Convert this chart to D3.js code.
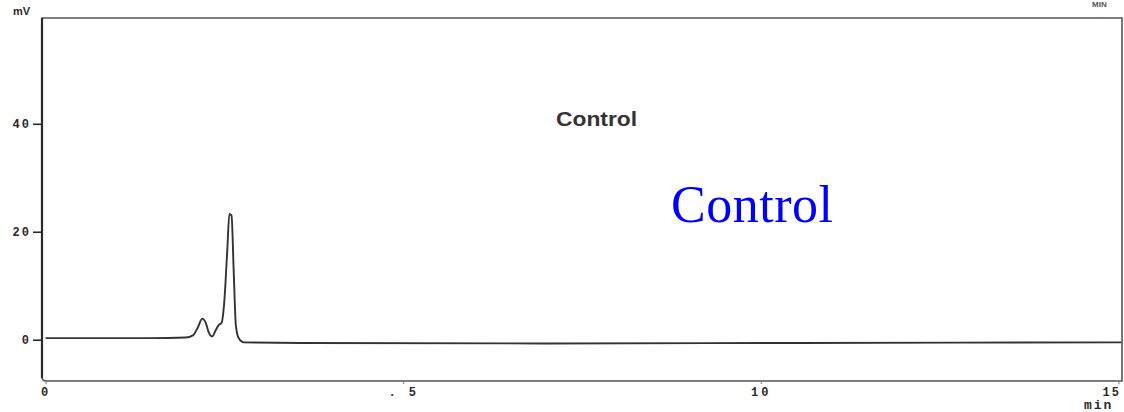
<!DOCTYPE html>
<html>
<head>
<meta charset="utf-8">
<script src="https://cdn.jsdelivr.net/npm/d3@7/dist/d3.min.js"></script>
<style>
  html, body { margin: 0; padding: 0; background: #fff; }
  svg { display: block; }
</style>
</head>
<body>
<svg id="chart" width="1124" height="412"></svg>
<script>
// ---- data ----
const timeMin = [0.0, 1.47, 1.96, 2.06, 2.13, 2.19, 2.24, 2.28, 2.33, 2.38, 2.42, 2.46, 2.50, 2.54, 2.57, 2.60, 2.63, 2.66, 2.70, 2.77, 3.57, 6.93, 10.56, 15.04];
const signalMV = [0.3, 0.3, 0.4, 0.8, 2.3, 3.9, 3.1, 1.4, 0.6, 1.8, 2.7, 3.1, 7.3, 16.5, 23.3, 23.0, 12.8, 2.7, 0.3, -0.5, -0.6, -0.7, -0.6, -0.5];
const yTicks = [0, 20, 40];
const xTicks = [0, 5, 10, 15];
const xTickLabels = ["0", ". 5", "10", "15"];
const yUnit = "mV";
const xUnit = "min";
const topRightNote = "MIN";
const innerLabel = "Control";
const overlayLabel = "Control";

const svg = d3.select("#chart");
const L = 42, R = 1122, T = 18, B = 381;

const x = d3.scaleLinear().domain([-0.05, 15.05]).range([L, R]);
const y = d3.scaleLinear().domain([-7.65, 59.6]).range([B, T]);

const ink = "#2a2a2a";

// frame
svg.append("path")
  .attr("d", `M${L},${T} L${R},${T} L${R},${B} L${L + 4},${B} Q${L},${B} ${L},${B - 4} Z`)
  .attr("fill", "none").attr("stroke", "#555").attr("stroke-width", 1.6);
svg.append("line").attr("x1", L).attr("x2", L).attr("y1", T).attr("y2", B - 3)
  .attr("stroke", ink).attr("stroke-width", 2.2);

// y axis
const yAxis = svg.append("g").attr("transform", `translate(${L},0)`)
  .call(d3.axisLeft(y).tickValues(yTicks).tickSize(9).tickPadding(2).tickFormat(d3.format("d")));
yAxis.select(".domain").remove();
yAxis.selectAll("line").attr("stroke", ink).attr("stroke-width", 1.6);
yAxis.selectAll("text").attr("fill", ink)
  .attr("font-family", "Liberation Mono, monospace").attr("font-weight", "bold")
  .attr("font-size", 12).attr("letter-spacing", 2);

// x axis
const xAxis = svg.append("g").attr("transform", `translate(0,${B})`)
  .call(d3.axisBottom(x).tickValues(xTicks).tickSize(3).tickPadding(3)
    .tickFormat((d, i) => xTickLabels[i]));
xAxis.select(".domain").remove();
xAxis.selectAll("line").attr("stroke", "#777").attr("stroke-width", 1);
xAxis.selectAll("text").attr("fill", ink)
  .attr("font-family", "Liberation Mono, monospace").attr("font-weight", "bold")
  .attr("font-size", 12).attr("letter-spacing", 3);
xAxis.selectAll(".tick").filter(d => d === 15).select("text")
  .attr("text-anchor", "end").attr("x", 2).attr("letter-spacing", 2);

// trace
const pts = timeMin.map((t, i) => [t, signalMV[i]]);
svg.append("path")
  .datum(pts)
  .attr("d", d3.line().x(d => x(d[0])).y(d => y(d[1])).curve(d3.curveMonotoneX))
  .attr("fill", "none").attr("stroke", "#333").attr("stroke-width", 1.9)
  .attr("stroke-linejoin", "round");

// unit labels
svg.append("text").attr("x", 13).attr("y", 15).text(yUnit)
  .attr("font-family", "Liberation Sans, sans-serif").attr("font-weight", "bold")
  .attr("font-size", 11).attr("fill", ink);
svg.append("text").attr("x", 1084).attr("y", 409).text(xUnit)
  .attr("font-family", "Liberation Mono, monospace").attr("font-weight", "bold")
  .attr("font-size", 13).attr("letter-spacing", 2).attr("fill", ink);
svg.append("text").attr("x", 1092).attr("y", 7).text(topRightNote)
  .attr("font-family", "Liberation Sans, sans-serif").attr("font-weight", "bold")
  .attr("font-size", 8).attr("fill", "#555");

// inner title
svg.append("text").attr("x", 556).attr("y", 126).text(innerLabel)
  .attr("font-family", "Liberation Sans, sans-serif").attr("font-weight", "bold")
  .attr("font-size", 20).attr("textLength", 81).attr("lengthAdjust", "spacingAndGlyphs")
  .attr("fill", "#333");

// overlay label
svg.append("text").attr("x", 671).attr("y", 222).text(overlayLabel)
  .attr("font-family", "Liberation Serif, serif")
  .attr("font-size", 52).attr("textLength", 162).attr("fill", "#0000ff");
</script>
</body>
</html>
